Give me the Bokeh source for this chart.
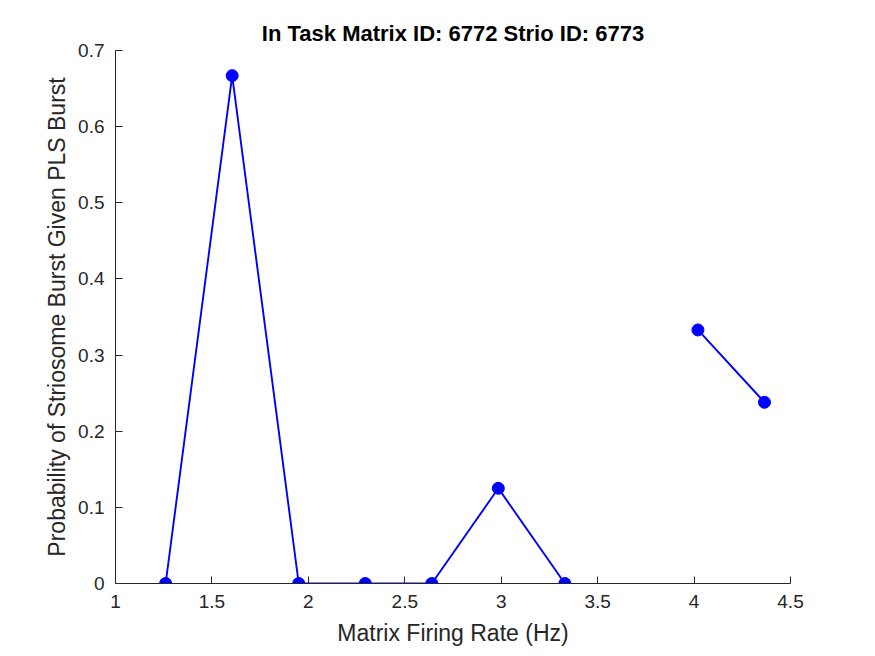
from bokeh.plotting import figure
from bokeh.models import FixedTicker, Range1d
from bokeh.embed import file_html
from bokeh.resources import INLINE

firing_rate = [1.26, 1.605, 1.95, 2.295, 2.64, 2.985, 3.33, 3.675, 4.02, 4.365]
probability = [0.0, 0.667, 0.0, 0.0, 0.0, 0.125, 0.0, float("nan"), 0.333, 0.238]

x_ticks = [1, 1.5, 2, 2.5, 3, 3.5, 4, 4.5]
x_tick_labels = ["1", "1.5", "2", "2.5", "3", "3.5", "4", "4.5"]
y_ticks = [0, 0.1, 0.2, 0.3, 0.4, 0.5, 0.6, 0.7]
y_tick_labels = ["0", "0.1", "0.2", "0.3", "0.4", "0.5", "0.6", "0.7"]

title_text = "In Task Matrix ID: 6772 Strio ID: 6773"
x_label = "Matrix Firing Rate (Hz)"
y_label = "Probability of Striosome Burst Given PLS Burst"

FONT = "Liberation Sans"
AX = "#262626"

p = figure(width=867, height=648, output_backend="svg", toolbar_location=None,
           x_range=Range1d(1, 4.5), y_range=Range1d(0, 0.7),
           min_border_left=115, min_border_right=77, min_border_top=50, min_border_bottom=65)
p.title.text = title_text
p.title.align = "center"
p.title.text_font = FONT
p.title.text_font_size = "22px"
p.title.text_font_style = "bold"
p.title.text_color = "#000000"
p.title.offset = 0
p.title.standoff = 10

p.outline_line_color = None
p.grid.visible = False
p.background_fill_color = "white"
p.border_fill_color = "white"

for ax, ticks, labels in ((p.xaxis[0], x_ticks, x_tick_labels), (p.yaxis[0], y_ticks, y_tick_labels)):
    ax.ticker = FixedTicker(ticks=ticks, minor_ticks=[])
    ax.major_label_overrides = {t: l for t, l in zip(ticks, labels)}
    ax.major_tick_in = 7
    ax.major_tick_out = 0
    ax.minor_tick_line_color = None
    ax.axis_line_color = AX
    ax.major_tick_line_color = AX
    ax.major_label_text_color = AX
    ax.major_label_text_font = FONT
    ax.major_label_text_font_size = "19px"
    ax.axis_label_text_font = FONT
    ax.axis_label_text_font_size = "23px"
    ax.axis_label_text_font_style = "normal"
    ax.axis_label_text_color = AX

p.xaxis[0].axis_label = x_label
p.yaxis[0].axis_label = y_label
p.xaxis[0].major_label_standoff = 11
p.yaxis[0].major_label_standoff = 11
p.xaxis[0].axis_label_standoff = 9
p.yaxis[0].axis_label_standoff = 5

p.line(firing_rate, probability, line_color="#0000ff", line_width=1.9)
p.scatter(firing_rate, probability, size=12, fill_color="#0000ff", line_color="#0000ff")

open("out.html", "w").write(file_html(p, INLINE))
